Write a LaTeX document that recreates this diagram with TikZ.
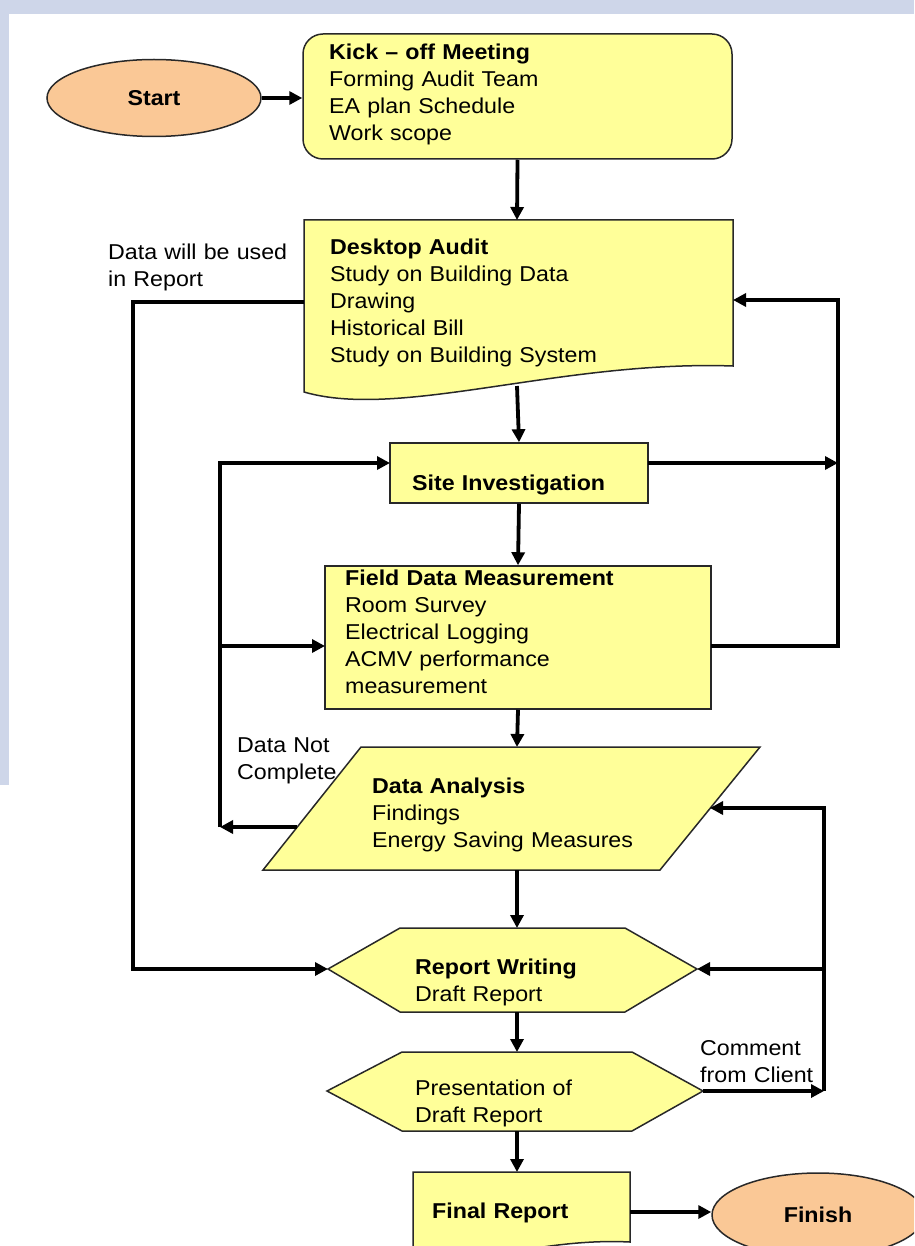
\documentclass[tikz,border=0pt]{standalone}
\usepackage{fontspec}
\setmainfont{Liberation Sans}[FakeStretch=1.08]
\usetikzlibrary{arrows.meta,shapes.geometric}
\definecolor{boxyellow}{RGB}{255,255,153}
\definecolor{peach}{RGB}{250,200,150}
\definecolor{edgegray}{RGB}{40,40,40}
\definecolor{wmark}{RGB}{206,214,233}
\tikzset{
  shapeline/.style={draw=edgegray, line width=1.5pt, fill=boxyellow},
  termshape/.style={ellipse, draw=edgegray, line width=1.5pt, fill=peach, inner sep=0pt,
    font=\fontsize{21.5}{27}\selectfont\bfseries},
  flowtext/.style={anchor=base west, align=left, inner sep=0pt, text width=400pt,
    font=\fontsize{21.5}{27}\selectfont},
  arr/.style={line width=3.8pt, -{Triangle[length=13pt,width=13pt]}},
}
\begin{document}
\begin{tikzpicture}[x=1pt,y=-1pt]
\useasboundingbox (0,0) rectangle (914,1246);
\clip (0,0) rectangle (914,1246);
% faint background watermark bands
\fill[wmark] (0,0) rectangle (914,14);
\fill[wmark] (0,0) rectangle (9,785);

% ---- shapes ----
\node[termshape, minimum width=214pt, minimum height=77pt] (start) at (154,98) {Start};

\node[shapeline, rounded corners=20pt, minimum width=429pt, minimum height=125pt, inner sep=0pt] (kick) at (517.5,96.5) {};
\node[flowtext] (kicktxt) at (329,60) {\textbf{Kick – off Meeting}\\Forming Audit Team\\EA plan Schedule\\Work scope};

% Desktop Audit (document shape)
\draw[shapeline] (304,220) -- (733,220) -- (733,366)
  .. controls (560,360) and (400,420) .. (304,392) -- cycle;
\coordinate (deskn) at (517,220);
\coordinate (desks) at (517,386);
\coordinate (deskw) at (304,302);
\coordinate (deske) at (733,300);
\node[flowtext] (desktxt) at (330,255) {\textbf{Desktop Audit}\\Study on Building Data\\Drawing\\Historical Bill\\Study on Building System};

% Site Investigation
\node[shapeline, minimum width=258pt, minimum height=60pt, inner sep=0pt] (site) at (519,473) {};
\node[flowtext] (sitetxt) at (412,490) {\textbf{Site Investigation}};
\coordinate (sitew) at (390,463);
\coordinate (sitee) at (648,463);

% Field Data Measurement
\node[shapeline, minimum width=386pt, minimum height=143pt, inner sep=0pt] (field) at (518,637.5) {};
\node[flowtext] (fieldtxt) at (345,585) {\textbf{Field Data Measurement}\\Room Survey\\Electrical Logging\\ACMV performance\\measurement};
\coordinate (fieldw) at (325,646);
\coordinate (fielde) at (711,646);

% Data Analysis (parallelogram)
\draw[shapeline] (361,747) -- (760,747) -- (660,870) -- (263,870) -- cycle;
\coordinate (dan) at (517,747);
\coordinate (das) at (517,870);
\coordinate (daw) at (297,827);
\coordinate (dae) at (710,808);
\node[flowtext] (datxt) at (372,793) {\textbf{Data Analysis}\\Findings\\Energy Saving Measures};

% Report Writing (hexagon)
\draw[shapeline] (328,969) -- (400,928) -- (625,928) -- (697,969) -- (625,1012) -- (400,1012) -- cycle;
\coordinate (rwn) at (517,928);
\coordinate (rws) at (517,1012);
\coordinate (rww) at (328,969);
\coordinate (rwe) at (697,969);
\node[flowtext] (rwtxt) at (415,974) {\textbf{Report Writing}\\Draft Report};

% Presentation (hexagon)
\draw[shapeline] (327,1091) -- (402,1052) -- (632,1052) -- (703,1091) -- (632,1131) -- (402,1131) -- cycle;
\coordinate (prn) at (517,1052);
\coordinate (prs) at (517,1131);
\coordinate (pre) at (703,1091);
\node[flowtext] (prtxt) at (415,1095) {Presentation of\\Draft Report};

% Final Report (document shape, cut by the page edge)
\draw[shapeline] (413,1172) -- (630,1172) -- (630,1242)
  .. controls (550,1238) and (480,1262) .. (413,1268) -- cycle;
\coordinate (finn) at (517,1172);
\coordinate (fine) at (630,1212);
\node[flowtext] (fintxt) at (432,1218) {\textbf{Final Report}};

\node[termshape, minimum width=212pt, minimum height=84pt] (finish) at (818,1215) {Finish};

% ---- labels ----
\node[flowtext] (lbldata) at (108,260) {Data will be used\\in Report};
\node[flowtext] (lblnot) at (237,752) {Data Not\\Complete};
\node[flowtext] (lblcom) at (700,1055) {Comment\\from Client};

% ---- connectors ----
\draw[arr] (start.east) -- (start.east -| kick.west);
\draw[arr] (kick.south) -- (deskn);
\draw[arr] (desks) -- (site.north);
\draw[arr] (site.south) -- (field.north);
\draw[arr] (field.south) -- (dan);
\draw[arr] (das) -- (rwn);
\draw[arr] (rws) -- (prn);
\draw[arr] (prs) -- (finn);
\draw[arr] (fine) -- (fine -| finish.west);

% data used in report
\coordinate (lc1) at (133,302);
\coordinate (lc2) at (133,969);
\draw[arr] (deskw) -- (lc1) -- (lc2) -- (rww);

% right loop back to desktop audit
\coordinate (rc1) at (838,646);
\coordinate (rc2) at (838,300);
\coordinate (rc3) at (838,463);
\draw[arr] (fielde) -- (rc1) -- (rc2) -- (deske);
\draw[arr] (sitee) -- (rc3);

% data not complete loop
\coordinate (nc1) at (220,827);
\coordinate (nc2) at (220,463);
\coordinate (nc3) at (220,646);
\draw[arr] (daw) -- (nc1);
\draw[arr] (nc1) -- (nc2) -- (sitew);
\draw[arr] (nc3) -- (fieldw);

% comment from client loop
\coordinate (cc1) at (824,1091);
\coordinate (cc2) at (824,808);
\coordinate (cc3) at (824,969);
\draw[arr] (pre) -- (cc1);
\draw[arr] (cc1) -- (cc2) -- (dae);
\draw[arr] (cc3) -- (rwe);
\end{tikzpicture}
\end{document}
